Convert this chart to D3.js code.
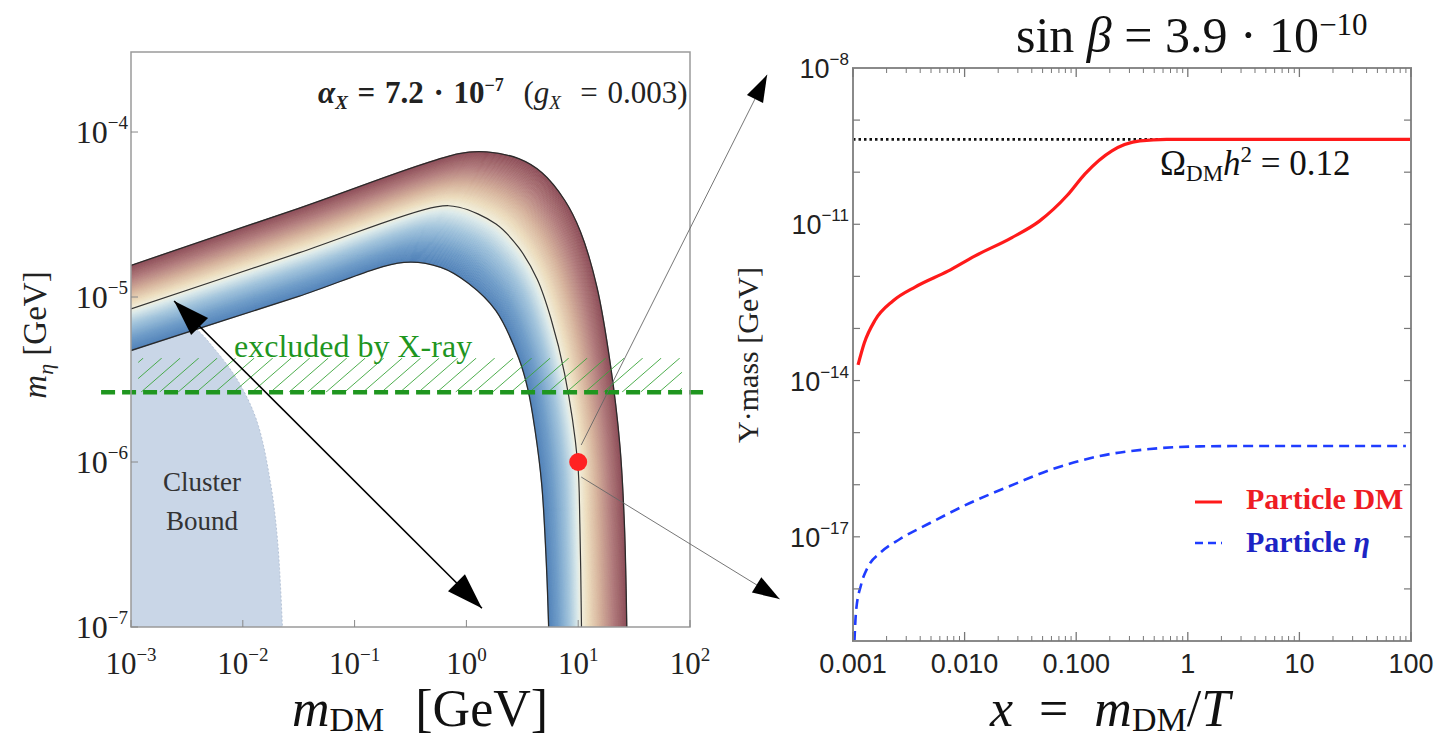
<!DOCTYPE html>
<html><head><meta charset="utf-8">
<script src="https://cdn.jsdelivr.net/npm/d3@7"></script>
<style>body{margin:0;background:#fff}</style>
</head><body>
<svg id="c" width="1435" height="738" xmlns="http://www.w3.org/2000/svg"></svg>
<script>
// ---------------- DATA ----------------
// Left panel (m_DM vs m_eta)
const leftXTicks = [1e-3, 1e-2, 1e-1, 1, 10, 100];
const leftXTickExp = ["\u22123", "\u22122", "\u22121", "0", "1", "2"];
const leftYTicks = [1e-7, 1e-6, 1e-5, 1e-4];
const leftYTickExp = ["\u22127", "\u22126", "\u22125", "\u22124"];

const bandInner = [[1e-3,4.74e-6],[0.0316,1.01e-5],[0.277,1.62e-5],[0.59,1.51e-5],[1.04,1.21e-5],[1.84,8.24e-6],[2.94,4.25e-6],[3.56,2.73e-6],[4.10,1.58e-6],[4.72,7.28e-7],[5.19,2.42e-7],[5.44,1e-7]];
const bandCenter = [[1e-3,8.47e-6],[0.0316,1.85e-5],[0.537,3.52e-5],[0.859,3.50e-5],[1.84,2.77e-5],[2.94,1.99e-5],[4.30,1.28e-5],[5.71,7.38e-6],[7.57,3.41e-6],[9.88,1e-6],[10.35,4.19e-7],[10.7,1e-7]];
const bandOuter = [[1e-3,1.556e-5],[0.0316,3.45e-5],[0.859,7.40e-5],[1.52,7.57e-5],[2.94,6.89e-5],[4.72,5.68e-5],[7.57,3.86e-5],[10.5,2.48e-5],[14.7,1.15e-5],[19.5,3.81e-6],[23.6,1.26e-6],[25.9,4.19e-7],[27.2,1e-7]];
const clusterBound = [[1e-3,7.46e-6],[1.85e-3,7.71e-6],[3.57e-3,6.6e-6],[5.73e-3,4.74e-6],[9.19e-3,3.05e-6],[1.34e-2,1.76e-6],[1.78e-2,7.27e-7],[2.06e-2,3.15e-7],[2.26e-2,1e-7]];
const xrayLimit = 2.65e-6;          // dashed green line
const xrayHatchTop = 4.27e-6;
const xrayLineX = [5.4e-4, 136];
const xrayHatchX = [1.16e-3, 84.7];
const benchmark = [10, 1e-6];       // red dot
const doubleArrow = [[2.43e-3, 9.46e-6], [1.377, 1.3e-7]];

// Right panel (x = m_DM/T vs Y*mass)
const rightXTicks = [1e-3, 1e-2, 1e-1, 1, 10, 100];
const rightXTickLabels = ["0.001", "0.010", "0.100", "1", "10", "100"];
const rightYTicks = [1e-8, 1e-11, 1e-14, 1e-17];
const rightYTickExp = ["\u22128", "\u221211", "\u221214", "\u221217"];
const relicLevel = 4.27e-10;
const dmCurve = [[0.00111,2.0e-14],[0.00126,5.2e-14],[0.00158,1.45e-13],[0.00229,3.4e-13],[0.00363,6.3e-13],[0.00708,1.26e-12],[0.0123,2.45e-12],[0.0263,5.5e-12],[0.0468,1.15e-11],[0.0832,3.6e-11],[0.120,9.3e-11],[0.209,2.57e-10],[0.372,3.98e-10],[0.646,4.27e-10],[1,4.27e-10],[10,4.27e-10],[100,4.27e-10]];
const etaCurve = [[0.00103,1e-19],[0.001064,3.63e-19],[0.00118,1.19e-18],[0.00136,2.63e-18],[0.001745,4.89e-18],[0.002636,9.08e-18],[0.0049,1.84e-17],[0.01117,4.46e-17],[0.0255,9.45e-17],[0.0582,1.92e-16],[0.163,3.56e-16],[0.458,4.85e-16],[1.285,5.45e-16],[5,5.55e-16],[90,5.55e-16]];
// connector arrow tips, expressed in right-panel coordinates
const connectorTips = [[1.7e-4, 7.4e-9], [2.2e-4, 6.4e-19]];

// ---------------- SCALES ----------------
const svg = d3.select("#c");
const xL = d3.scaleLog().domain([1e-3, 1e2]).range([131, 690]);
const yL = d3.scaleLog().domain([1e-7, Math.pow(10, -3.515)]).range([627, 52]);
const xR = d3.scaleLog().domain([1e-3, 1e2]).range([853, 1411]);
const yR = d3.scaleLog().domain([1e-19, 1e-8]).range([641, 68]);

const SERIF = "'Liberation Serif','Times New Roman',serif";
const SANS = "'Liberation Sans',Arial,sans-serif";

function rich(g, x, y, parts, attrs) {
  const t = g.append("text").attr("x", x).attr("y", y);
  for (const k in attrs) t.attr(k, attrs[k]);
  let cur = 0;
  parts.forEach(p => {
    const s = t.append("tspan").text(p.t);
    const shift = p.dy || 0;
    s.attr("dy", shift - cur); cur = shift;
    if (p.size) s.attr("font-size", p.size);
    if (p.italic) s.attr("font-style", "italic");
    if (p.weight) s.attr("font-weight", p.weight);
    if (p.dx) s.attr("dx", p.dx);
  });
  return t;
}
function arrowHead(g, tip, from, len, hw, fill) {
  const dx = tip[0] - from[0], dy = tip[1] - from[1];
  const L = Math.hypot(dx, dy), ux = dx / L, uy = dy / L;
  const bx = tip[0] - ux * len, by = tip[1] - uy * len;
  g.append("path").attr("d", `M${tip[0]},${tip[1]}L${bx - uy * hw},${by + ux * hw}L${bx + uy * hw},${by - ux * hw}Z`).attr("fill", fill);
}

// ---------------- LEFT PANEL ----------------
const gL = svg.append("g");
const defs = svg.append("defs");
defs.append("clipPath").attr("id", "clipL").append("rect")
  .attr("x", 131).attr("y", 52).attr("width", 559).attr("height", 575);

const plotL = gL.append("g").attr("clip-path", "url(#clipL)");
const lineL = d3.line().x(d => xL(d[0])).y(d => yL(d[1])).curve(d3.curveCatmullRom.alpha(0.5));

const tmp = svg.append("g").attr("visibility", "hidden");
function resample(pts, n) {
  const p = tmp.append("path").attr("d", lineL(pts)).node();
  const L = p.getTotalLength();
  return d3.range(n).map(i => { const q = p.getPointAtLength(L * i / (n - 1)); return [q.x, q.y]; });
}
// cluster bound
const clusterPts = resample(clusterBound, 200);
plotL.append("path")
  .attr("d", "M" + clusterPts.join("L") + `L${xL(1e-3)},${yL(1e-7)}Z`)
  .attr("fill", "#c9d6e7");
plotL.append("path").attr("d", "M" + clusterPts.join("L"))
  .attr("fill", "none").attr("stroke", "#b4c2d6").attr("stroke-width", 1).attr("stroke-dasharray", "2,2");

// band with colour gradient across it
const NS = 400, K = 110;
const A = resample(bandInner, NS), C = resample(bandCenter, NS), B = resample(bandOuter, NS);
function curveAt(t) {
  return A.map((a, i) => {
    if (t <= 0.5) { const u = t * 2; return [a[0] + (C[i][0] - a[0]) * u, a[1] + (C[i][1] - a[1]) * u]; }
    const u = (t - 0.5) * 2; return [C[i][0] + (B[i][0] - C[i][0]) * u, C[i][1] + (B[i][1] - C[i][1]) * u];
  });
}
const bandColor = d3.scaleLinear()
  .domain([0, 0.15, 0.32, 0.45, 0.5, 0.58, 0.7, 0.85, 1])
  .range(["#4f80b8", "#6e9cc8", "#a2c4dc", "#dbe9ea", "#f1f0df", "#ecdcbd", "#d6b39c", "#b27c7c", "#8c4c57"]);
for (let k = 0; k < K; k++) {
  const c0 = curveAt(k / K), c1 = curveAt((k + 1) / K).reverse();
  const col = bandColor((k + 0.5) / K);
  plotL.append("path").attr("d", "M" + c0.concat(c1).join("L") + "Z")
    .attr("fill", col).attr("stroke", col).attr("stroke-width", 0.7);
}
[bandInner, bandOuter].forEach(b => plotL.append("path").attr("d", lineL(b))
  .attr("fill", "none").attr("stroke", "#2a2a2a").attr("stroke-width", 1.3));
plotL.append("path").attr("d", lineL(bandCenter))
  .attr("fill", "none").attr("stroke", "#333").attr("stroke-width", 1.2);

// hatch for excluded region
defs.append("clipPath").attr("id", "clipH").append("rect")
  .attr("x", xL(xrayHatchX[0])).attr("y", yL(xrayHatchTop))
  .attr("width", xL(xrayHatchX[1]) - xL(xrayHatchX[0])).attr("height", yL(xrayLimit) - yL(xrayHatchTop));
const gH = gL.append("g").attr("clip-path", "url(#clipH)");
const hy0 = yL(xrayHatchTop), hy1 = yL(xrayLimit), hh = hy1 - hy0;
for (let x = xL(xrayHatchX[0]) - hh; x < xL(xrayHatchX[1]); x += 18.5) {
  gH.append("line").attr("x1", x).attr("y1", hy1).attr("x2", x + hh * 1.15).attr("y2", hy0)
    .attr("stroke", "#3aa53a").attr("stroke-width", 0.9);
}
// dashed x-ray line
gL.append("line").attr("x1", xL(xrayLineX[0])).attr("x2", xL(xrayLineX[1]))
  .attr("y1", yL(xrayLimit)).attr("y2", yL(xrayLimit))
  .attr("stroke", "#1f961f").attr("stroke-width", 4.5).attr("stroke-dasharray", "14,7");

// frame + ticks
gL.append("rect").attr("x", 131).attr("y", 52).attr("width", 559).attr("height", 575)
  .attr("fill", "none").attr("stroke", "#9a9a9a").attr("stroke-width", 1.5);
leftXTicks.forEach((v, i) => {
  gL.append("line").attr("x1", xL(v)).attr("x2", xL(v)).attr("y1", 627).attr("y2", 620).attr("stroke", "#888");
  rich(gL, xL(v), 674, [{ t: "10" }, { t: leftXTickExp[i], dy: -13, size: 19 }],
    { "font-family": SERIF, "font-size": 31, "text-anchor": "middle", fill: "#222" });
});
leftYTicks.forEach((v, i) => {
  gL.append("line").attr("x1", 131).attr("x2", 138).attr("y1", yL(v)).attr("y2", yL(v)).attr("stroke", "#888");
  rich(gL, 128, yL(v) + 11, [{ t: "10" }, { t: leftYTickExp[i], dy: -14, size: 19 }],
    { "font-family": SERIF, "font-size": 32, "text-anchor": "end", fill: "#222" });
});

// texts
rich(gL, 318, 103, [
  { t: "\u03B1", weight: "bold", italic: true }, { t: "X", dy: 6, size: 19, italic: true, weight: "bold" },
  { t: " = 7.2 \u00B7 10", weight: "bold", dy: 0 }, { t: "\u22127", dy: -12, size: 18, weight: "bold" },
  { t: "  (", dy: 0 }, { t: "g", italic: true }, { t: "X", dy: 6, size: 19, italic: true },
  { t: "  = 0.003)", dy: 0 }
], { "font-family": SERIF, "font-size": 31, fill: "#222", "xml:space": "preserve", "word-spacing": 2 });

gL.append("text").attr("x", 234).attr("y", 357).text("excluded by X-ray")
  .attr("font-family", SERIF).attr("font-size", 32).attr("fill", "#1f961f");
gL.append("text").attr("x", 202).attr("y", 491).text("Cluster")
  .attr("font-family", SERIF).attr("font-size", 27).attr("fill", "#333").attr("text-anchor", "middle");
gL.append("text").attr("x", 202).attr("y", 530).text("Bound")
  .attr("font-family", SERIF).attr("font-size", 27).attr("fill", "#333").attr("text-anchor", "middle");

rich(gL, 420, 726, [
  { t: "m", italic: true }, { t: "DM", dy: 5, size: 34 }, { t: " [GeV]", dy: 0, dx: 18 }
], { "font-family": SERIF, "font-size": 52, "text-anchor": "middle", fill: "#111", "xml:space": "preserve" });

const yt = gL.append("g").attr("transform", "translate(46,335) rotate(-90)");
rich(yt, 0, 0, [
  { t: "m", italic: true }, { t: "\u03B7", dy: 7, size: 22, italic: true }, { t: " [GeV]", dy: 0 }
], { "font-family": SERIF, "font-size": 33, "text-anchor": "middle", fill: "#222" });

// ---------------- RIGHT PANEL ----------------
const gR = svg.append("g");
defs.append("clipPath").attr("id", "clipR").append("rect")
  .attr("x", 853).attr("y", 68).attr("width", 558).attr("height", 573);
const plotR = gR.append("g").attr("clip-path", "url(#clipR)");
const lineR = d3.line().x(d => xR(d[0])).y(d => yR(d[1])).curve(d3.curveMonotoneX);

plotR.append("line").attr("x1", 853).attr("x2", 1411).attr("y1", yR(relicLevel)).attr("y2", yR(relicLevel))
  .attr("stroke", "#111").attr("stroke-width", 2.6).attr("stroke-dasharray", "2.5,3");
plotR.append("path").attr("d", lineR(dmCurve)).attr("fill", "none")
  .attr("stroke", "#ff1a1a").attr("stroke-width", 3.2);
plotR.append("path").attr("d", lineR(etaCurve)).attr("fill", "none")
  .attr("stroke", "#1f3cff").attr("stroke-width", 2.6).attr("stroke-dasharray", "10,6");

// frame & ticks
gR.append("rect").attr("x", 853).attr("y", 68).attr("width", 558).attr("height", 573)
  .attr("fill", "none").attr("stroke", "#8a8a8a").attr("stroke-width", 2);
const minor = [];
for (let e = -3; e < 2; e++) for (let k = 2; k < 10; k++) minor.push(k * Math.pow(10, e));
minor.forEach(v => {
  [[641, 636], [68, 73]].forEach(([a, b]) => gR.append("line").attr("x1", xR(v)).attr("x2", xR(v))
    .attr("y1", a).attr("y2", b).attr("stroke", "#777").attr("stroke-width", 1));
});
rightXTicks.forEach((v, i) => {
  [[641, 632], [68, 77]].forEach(([a, b]) => gR.append("line").attr("x1", xR(v)).attr("x2", xR(v))
    .attr("y1", a).attr("y2", b).attr("stroke", "#777").attr("stroke-width", 1.3));
  gR.append("text").attr("x", xR(v)).attr("y", 673).text(rightXTickLabels[i])
    .attr("font-family", SANS).attr("font-size", 27).attr("text-anchor", "middle").attr("fill", "#222");
});
for (let e = -18; e <= -9; e++) {
  const v = Math.pow(10, e);
  [[853, 860], [1411, 1404]].forEach(([a, b]) => gR.append("line").attr("x1", a).attr("x2", b)
    .attr("y1", yR(v)).attr("y2", yR(v)).attr("stroke", "#777").attr("stroke-width", 1.2));
}
rightYTicks.forEach((v, i) => {
  rich(gR, 849, yR(v) + 10, [{ t: "10" }, { t: rightYTickExp[i], dy: -13, size: 17 }],
    { "font-family": SANS, "font-size": 27, "text-anchor": "end", fill: "#222" });
});

// titles & labels
rich(gR, 1016, 52, [
  { t: "sin " }, { t: "\u03B2", italic: true }, { t: " = 3.9 \u00B7 10" }, { t: "\u221210", dy: -17, size: 31 }
], { "font-family": SERIF, "font-size": 50, fill: "#111", "xml:space": "preserve" });

rich(gR, 1160, 175, [
  { t: "\u03A9" }, { t: "DM", dy: 6, size: 23 }, { t: "h", dy: 0, italic: true }, { t: "2", dy: -13, size: 23 },
  { t: " = 0.12", dy: 0 }
], { "font-family": SERIF, "font-size": 35, fill: "#111", "xml:space": "preserve" });

rich(gR, 1110, 726, [
  { t: "x", italic: true }, { t: "  =  " }, { t: "m", italic: true }, { t: "DM", dy: 5, size: 34 },
  { t: "/", dy: 0 }, { t: "T", italic: true }
], { "font-family": SERIF, "font-size": 52, "text-anchor": "middle", fill: "#111", "xml:space": "preserve" });

const yt2 = gR.append("g").attr("transform", "translate(758,355) rotate(-90)");
yt2.append("text").text("Y\u00B7mass [GeV]").attr("font-family", SERIF).attr("font-size", 30)
  .attr("text-anchor", "middle").attr("fill", "#222");

// legend
gR.append("line").attr("x1", 1195).attr("x2", 1222).attr("y1", 502).attr("y2", 502)
  .attr("stroke", "#ff1a1a").attr("stroke-width", 3);
gR.append("line").attr("x1", 1195).attr("x2", 1222).attr("y1", 543).attr("y2", 543)
  .attr("stroke", "#1f3cff").attr("stroke-width", 2.5).attr("stroke-dasharray", "8,5");
gR.append("text").attr("x", 1246).attr("y", 509).text("Particle DM")
  .attr("font-family", SERIF).attr("font-size", 30).attr("font-weight", "bold").attr("fill", "#ee1c24");
rich(gR, 1246, 552, [{ t: "Particle " }, { t: "\u03B7", italic: true }],
  { "font-family": SERIF, "font-size": 30, "font-weight": "bold", fill: "#1c24c4", "xml:space": "preserve" });

// ---------------- ANNOTATIONS ----------------
const gA = svg.append("g");
const p0 = [xL(doubleArrow[0][0]), yL(doubleArrow[0][1])], p1 = [xL(doubleArrow[1][0]), yL(doubleArrow[1][1])];
gA.append("line").attr("x1", p0[0]).attr("y1", p0[1]).attr("x2", p1[0]).attr("y2", p1[1])
  .attr("stroke", "#000").attr("stroke-width", 1.6);
arrowHead(gA, p0, p1, 36, 12, "#000");
arrowHead(gA, p1, p0, 36, 12, "#000");

const dot = [xL(benchmark[0]), yL(benchmark[1])];
const tipU = [xR(connectorTips[0][0]), yR(connectorTips[0][1])];
const tipD = [xR(connectorTips[1][0]), yR(connectorTips[1][1])];
const startU = [dot[0] + 3, dot[1] - 17], startD = [dot[0] + 3, dot[1] + 15];
gA.append("line").attr("x1", startU[0]).attr("y1", startU[1]).attr("x2", tipU[0]).attr("y2", tipU[1])
  .attr("stroke", "#666").attr("stroke-width", 0.9);
gA.append("line").attr("x1", startD[0]).attr("y1", startD[1]).attr("x2", tipD[0]).attr("y2", tipD[1])
  .attr("stroke", "#666").attr("stroke-width", 0.9);
arrowHead(gA, tipU, startU, 27, 9, "#000");
arrowHead(gA, tipD, startD, 27, 9, "#000");
gA.append("circle").attr("cx", dot[0]).attr("cy", dot[1]).attr("r", 9).attr("fill", "#ff2222");
</script>
</body></html>
